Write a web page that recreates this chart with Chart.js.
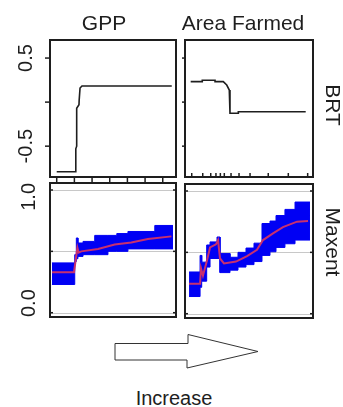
<!DOCTYPE html>
<html>
<head>
<meta charset="utf-8">
<script src="https://cdn.jsdelivr.net/npm/chart.js@4.4.1/dist/chart.umd.min.js"></script>
<style>
    body { margin: 0; background: #fff; }
    #wrap { position: relative; width: 343px; height: 407px; overflow: hidden; background: #fff; }
    .panel { position: absolute; }
    #deco { position: absolute; left: 0; top: 0; }
</style>
</head>
<body>
<div id="wrap">
    <svg id="deco" width="343" height="407">
        <polygon points="115,343.5 188,343.5 188,334.5 258,351.5 187,368 187,360 115,360"
                 fill="#fff" stroke="#333" stroke-width="1"/>
        <text x="174" y="405" text-anchor="middle" font-family="Liberation Sans, Arial, sans-serif"
              font-size="20" fill="#1e1e1e">Increase</text>
    </svg>
    <div class="panel" style="left:0;top:0;width:180px;height:190px"><canvas id="brtGpp" width="180" height="190"></canvas></div>
    <div class="panel" style="left:180px;top:0;width:163px;height:190px"><canvas id="brtArea" width="163" height="190"></canvas></div>
    <div class="panel" style="left:0;top:175px;width:180px;height:150px"><canvas id="mxGpp" width="180" height="150"></canvas></div>
    <div class="panel" style="left:180px;top:176px;width:163px;height:150px"><canvas id="mxArea" width="163" height="150"></canvas></div>
</div>
<script>
// Données

// Graduations des axes
const gppTicks = [0, 1, 2, 3, 4, 5, 6];
const areaTicks = [0, 9.5, 16.4, 20.9, 24.7, 28.1, 33.9, 40.8, 50.3, 66, 83.3, 100];
const brtYTicks = [-0.5, 0, 0.5];
const brtYLabels = ['-0.5', '', '0.5'];
const maxentYTicks = [0, 0.5, 1];
const maxentYLabels = ['0.0', '', '1.0'];

// BRT - GPP
const brtGppX = [0, 1.07, 1.08, 1.13, 1.13, 1.26, 1.27, 1.32, 1.43, 6.51];
const brtGppY = [-0.79, -0.79, -0.53, -0.50, -0.07, -0.03, 0.02, 0.16, 0.183, 0.183];

// BRT - Area Farmed
const brtAreaX = [-0.9, 9.1, 9.1, 20.1, 20.1, 27.2, 30.2, 32.4, 33.0, 33.0, 40.2, 40.2, 98.3];
const brtAreaY = [0.232, 0.232, 0.248, 0.248, 0.232, 0.232, 0.194, 0.137, 0.10, -0.127, -0.127, -0.109, -0.109];

// Maxent - GPP (bande en paliers + moyenne)
const mxGppBandX = [-0.27, 1.02, 1.11, 1.2, 1.49, 2.15, 2.9, 3.4, 4.03, 5.55, 6.58];
const mxGppUpper = [0.406, 0.473, 0.609, 0.568, 0.581, 0.63, 0.63, 0.645, 0.662, 0.711, 0.711];
const mxGppLower = [0.23, 0.417, 0.44, 0.459, 0.473, 0.473, 0.5, 0.5, 0.52, 0.52, 0.52];
const mxGppMeanX = [-0.27, 0.98, 1.05, 1.17, 1.24, 1.39, 2.34, 3.28, 4.22, 5.16, 6.49];
const mxGppMean = [0.33, 0.33, 0.406, 0.53, 0.49, 0.50, 0.52, 0.555, 0.573, 0.60, 0.622];

// Maxent - Area Farmed (bande en paliers + moyenne)
const mxAreaBandX = [-2.3, 7.2, 8.6, 12.9, 15.8, 21.8, 24.4, 33.0, 39.9, 46.8, 53.7, 60.6, 67.5, 72.7, 80.4, 89.1, 102];
const mxAreaUpper = [0.34, 0.475, 0.42, 0.56, 0.585, 0.625, 0.49, 0.46, 0.5, 0.535, 0.575, 0.735, 0.755, 0.8, 0.85, 0.91, 0.91];
const mxAreaLower = [0.14, 0.215, 0.265, 0.38, 0.45, 0.45, 0.335, 0.355, 0.38, 0.40, 0.425, 0.475, 0.505, 0.54, 0.57, 0.6, 0.6];
const mxAreaMeanX = [-2.3, 7.2, 8.0, 9.7, 13.2, 15.8, 20.9, 22.7, 24.4, 27.8, 38.2, 47.7, 56.3, 61.5, 70.1, 78.7, 90.8, 100.3];
const mxAreaMean = [0.245, 0.245, 0.37, 0.31, 0.435, 0.54, 0.565, 0.6, 0.45, 0.41, 0.425, 0.47, 0.52, 0.6, 0.655, 0.705, 0.75, 0.755];

const FONT = '"Liberation Sans", Arial, sans-serif';
const INK = '#1e1e1e';
const BLUE = '#0000f4';

function pts(xs, ys) {
    return xs.map((x, i) => ({ x: x, y: ys[i] }));
}

// Paliers explicites : chaque valeur tient jusqu'à l'abscisse suivante
function stepPts(xs, ys) {
    const out = [];
    xs.forEach((x, i) => {
        out.push({ x: x, y: ys[i] });
        if (i < xs.length - 1) out.push({ x: xs[i + 1], y: ys[i] });
    });
    return out;
}

// Cadre, graduations et libellés dessinés à partir des échelles
function framePlugin(cfg) {
    return {
        id: 'frame',
        beforeDatasetsDraw(chart) {
            if (!cfg.grid) return;
            const { ctx, chartArea: a, scales: { y } } = chart;
            ctx.save();
            ctx.strokeStyle = '#c8c8c8';
            ctx.lineWidth = 1;
            cfg.grid.forEach(v => {
                const py = Math.round(y.getPixelForValue(v)) + 0.5;
                ctx.beginPath();
                ctx.moveTo(a.left, py);
                ctx.lineTo(a.right, py);
                ctx.stroke();
            });
            ctx.restore();
        },
        afterDatasetsDraw(chart) {
            const { ctx, chartArea: a, scales: { x, y } } = chart;
            ctx.save();
            ctx.strokeStyle = INK;
            ctx.fillStyle = INK;
            ctx.lineWidth = 2;
            ctx.strokeRect(a.left, a.top, a.right - a.left, a.bottom - a.top);

            // graduations verticales
            ctx.lineWidth = 1.5;
            cfg.yTicks.forEach(v => {
                const py = y.getPixelForValue(v);
                ctx.beginPath();
                ctx.moveTo(a.left, py);
                ctx.lineTo(a.left - cfg.yTickLen, py);
                ctx.stroke();
                if (cfg.rightTicks) {
                    ctx.beginPath();
                    ctx.moveTo(a.right, py);
                    ctx.lineTo(a.right - 3, py);
                    ctx.stroke();
                }
            });

            // graduations horizontales
            (cfg.xTicks || []).forEach(v => {
                const px = x.getPixelForValue(v);
                ctx.beginPath();
                ctx.moveTo(px, a.bottom);
                ctx.lineTo(px, a.bottom + cfg.xTickLen);
                ctx.stroke();
            });

            // libellés des graduations, tournés
            ctx.font = '20px ' + FONT;
            ctx.textAlign = 'center';
            ctx.textBaseline = 'alphabetic';
            cfg.yTicks.forEach((v, i) => {
                const txt = (cfg.yLabels || [])[i];
                if (!txt) return;
                const half = ctx.measureText(txt).width / 2;
                let cy = y.getPixelForValue(v);
                cy = Math.max(a.top + half, Math.min(a.bottom - half, cy));
                ctx.save();
                ctx.translate(cfg.labelX, cy);
                ctx.rotate(-Math.PI / 2);
                ctx.fillText(txt, 0, 0);
                ctx.restore();
            });

            // titre de colonne
            if (cfg.title) {
                ctx.font = '21px ' + FONT;
                ctx.fillText(cfg.title, cfg.titleX, 30);
            }

            // titre de ligne, à droite
            if (cfg.rowLabel) {
                ctx.font = '21px ' + FONT;
                ctx.save();
                ctx.translate(cfg.rowX, cfg.rowY);
                ctx.rotate(Math.PI / 2);
                ctx.fillText(cfg.rowLabel, 0, 0);
                ctx.restore();
            }
            ctx.restore();
        }
    };
}

function makePanel(id, cfg, datasets) {
    return new Chart(document.getElementById(id), {
        type: 'line',
        data: { datasets: datasets },
        options: {
            responsive: false,
            animation: false,
            events: [],
            layout: { padding: cfg.padding },
            elements: { point: { radius: 0 } },
            scales: {
                x: { type: 'linear', display: false, min: cfg.xMin, max: cfg.xMax },
                y: { type: 'linear', display: false, min: cfg.yMin, max: cfg.yMax }
            },
            plugins: {
                legend: { display: false },
                tooltip: { enabled: false }
            }
        },
        plugins: [framePlugin(cfg)]
    });
}

function brtLine(xs, ys) {
    return [{
        data: pts(xs, ys),
        borderColor: INK,
        borderWidth: 1.6,
        fill: false,
        tension: 0
    }];
}

function maxentBand(bx, up, lo, mx, mean) {
    return [
        {
            data: pts(mx, mean),
            borderColor: '#c8306e',
            borderWidth: 2,
            fill: false,
            tension: 0
        },
        {
            data: stepPts(bx, up),
            borderColor: BLUE,
            borderWidth: 1,
            backgroundColor: BLUE,
            fill: '+1',
            tension: 0
        },
        {
            data: stepPts(bx, lo),
            borderColor: BLUE,
            borderWidth: 1,
            fill: false,
            tension: 0
        }
    ];
}

makePanel('brtGpp', {
    padding: { left: 50, top: 40, right: 4, bottom: 13 },
    xMin: -0.38, xMax: 6.75, yMin: -0.85, yMax: 0.705,
    yTicks: brtYTicks, yLabels: brtYLabels, yTickLen: 5, labelX: 32,
    xTicks: gppTicks, xTickLen: 5,
    title: 'GPP', titleX: 104
}, brtLine(brtGppX, brtGppY));

makePanel('brtArea', {
    padding: { left: 5, top: 40, right: 30, bottom: 13 },
    xMin: -5.8, xMax: 104.6, yMin: -0.85, yMax: 0.705,
    yTicks: brtYTicks, yTickLen: 3,
    xTicks: areaTicks, xTickLen: -4,
    title: 'Area Farmed', titleX: 63,
    rowLabel: 'BRT', rowX: 146, rowY: 105
}, brtLine(brtAreaX, brtAreaY));

makePanel('mxGpp', {
    padding: { left: 50, top: 8, right: 4, bottom: 8 },
    xMin: -0.38, xMax: 6.75, yMin: -0.035, yMax: 1.057,
    yTicks: maxentYTicks, yLabels: maxentYLabels, yTickLen: -3, rightTicks: true, labelX: 35,
    grid: maxentYTicks
}, maxentBand(mxGppBandX, mxGppUpper, mxGppLower, mxGppMeanX, mxGppMean));

makePanel('mxArea', {
    padding: { left: 5, top: 8, right: 30, bottom: 8 },
    xMin: -5.8, xMax: 104.6, yMin: -0.035, yMax: 1.057,
    yTicks: maxentYTicks, yTickLen: -3, rightTicks: true,
    grid: maxentYTicks,
    rowLabel: 'Maxent', rowX: 146, rowY: 66
}, maxentBand(mxAreaBandX, mxAreaUpper, mxAreaLower, mxAreaMeanX, mxAreaMean));
</script>
</body>
</html>
